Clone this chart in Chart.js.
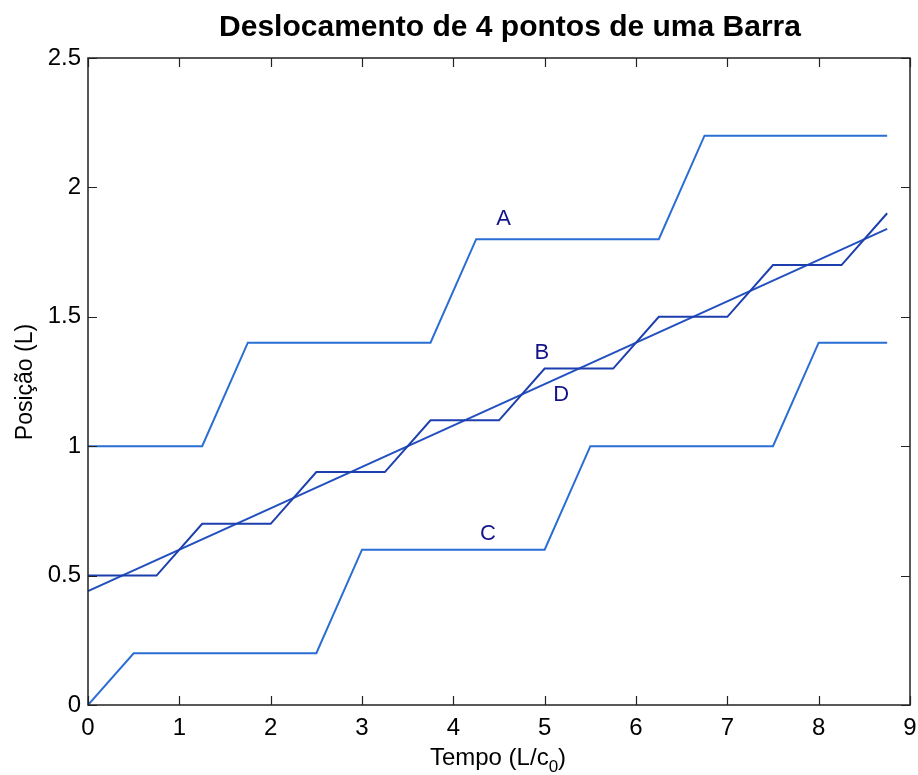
<!DOCTYPE html>
<html><head><meta charset="utf-8">
<script src="https://cdn.jsdelivr.net/npm/chart.js@4/dist/chart.umd.min.js"></script>
<style>html,body{margin:0;padding:0;background:#fff}#c{display:block}</style>
</head><body>
<canvas id="c" width="918" height="775" style="width:918px;height:775px"></canvas>
<script>
const seriesA = [[0,1],[1.25,1],[1.75,1.4],[3.75,1.4],[4.25,1.8],[6.25,1.8],[6.75,2.2],[8.75,2.2]];
const seriesB = [[0,0.5],[0.75,0.5],[1.25,0.7],[2,0.7],[2.5,0.9],[3.25,0.9],[3.75,1.1],[4.5,1.1],[5,1.3],[5.75,1.3],[6.25,1.5],[7,1.5],[7.5,1.7],[8.25,1.7],[8.75,1.9]];
const seriesC = [[0,0],[0.5,0.2],[2.5,0.2],[3,0.6],[5,0.6],[5.5,1.0],[7.5,1.0],[8,1.4],[8.75,1.4]];
const seriesD = [[0,0.44],[8.75,1.84]];
const curveLabels = [["A",4.55,1.88],["B",4.97,1.36],["D",5.18,1.20],["C",4.38,0.66]];
const xTicks = [0,1,2,3,4,5,6,7,8,9];
const yTicks = [0,0.5,1,1.5,2,2.5];
const titleText = "Deslocamento de 4 pontos de uma Barra";
const yTitle = "Posição (L)";

const toPts = a => a.map(p => ({x:p[0], y:p[1]}));
const FONT = '"Liberation Sans", Arial, Helvetica, sans-serif';

const decor = {
  id: 'decor',
  afterDraw(chart) {
    const ctx = chart.ctx, ca = chart.chartArea;
    const xs = chart.scales.x, ys = chart.scales.y;
    ctx.save();
    ctx.strokeStyle = '#222'; ctx.lineWidth = 1.5;
    ctx.strokeRect(ca.left, ca.top, ca.right - ca.left, ca.bottom - ca.top);
    ctx.lineWidth = 1.2;
    const tl = 9;
    xTicks.forEach(v => {
      const px = Math.round(xs.getPixelForValue(v)) + 0.5;
      ctx.beginPath(); ctx.moveTo(px, ca.bottom); ctx.lineTo(px, ca.bottom - tl);
      ctx.moveTo(px, ca.top); ctx.lineTo(px, ca.top + tl); ctx.stroke();
    });
    yTicks.forEach(v => {
      const py = Math.round(ys.getPixelForValue(v)) + 0.5;
      ctx.beginPath(); ctx.moveTo(ca.left, py); ctx.lineTo(ca.left + tl, py);
      ctx.moveTo(ca.right, py); ctx.lineTo(ca.right - tl, py); ctx.stroke();
    });
    // title
    ctx.fillStyle = '#000';
    ctx.font = 'bold 30px ' + FONT;
    ctx.textAlign = 'center'; ctx.textBaseline = 'alphabetic';
    ctx.fillText(titleText, 510, 36);
    // x title with subscript
    const fs = 24;
    ctx.font = fs + 'px ' + FONT;
    const p1 = 'Tempo (L/c', sub = '0', p2 = ')';
    ctx.textAlign = 'left';
    const w1 = ctx.measureText(p1).width, w3 = ctx.measureText(p2).width;
    ctx.font = '17px ' + FONT;
    const w2 = ctx.measureText(sub).width;
    let x0 = 498 - (w1 + w2 + w3) / 2, base = 765;
    ctx.font = fs + 'px ' + FONT; ctx.fillText(p1, x0, base);
    ctx.font = '17px ' + FONT; ctx.fillText(sub, x0 + w1, base + 7);
    ctx.font = fs + 'px ' + FONT; ctx.fillText(p2, x0 + w1 + w2, base);
    // y title
    ctx.save();
    ctx.translate(32, 382); ctx.rotate(-Math.PI / 2);
    ctx.textAlign = 'center';
    ctx.font = '23px ' + FONT;
    ctx.fillText(yTitle, 0, 0);
    ctx.restore();
    // curve labels
    ctx.fillStyle = '#14148a';
    ctx.font = '22px ' + FONT;
    ctx.textAlign = 'center'; ctx.textBaseline = 'middle';
    curveLabels.forEach(l => {
      ctx.fillText(l[0], xs.getPixelForValue(l[1]), ys.getPixelForValue(l[2]));
    });
    ctx.restore();
  }
};

new Chart(document.getElementById('c'), {
  type: 'line',
  data: {
    datasets: [
      {label:'A', data: toPts(seriesA), borderColor:'#2a6ed4', borderWidth:2},
      {label:'B', data: toPts(seriesB), borderColor:'#1d3fae', borderWidth:2},
      {label:'C', data: toPts(seriesC), borderColor:'#2a6ed4', borderWidth:2},
      {label:'D', data: toPts(seriesD), borderColor:'#2350bf', borderWidth:2}
    ]
  },
  options: {
    responsive: false,
    animation: false,
    devicePixelRatio: 1,
    elements: { point: { radius: 0 }, line: { tension: 0 } },
    layout: { padding: { left: 0, top: 58, right: 8, bottom: 0 } },
    plugins: { legend: { display: false }, tooltip: { enabled: false }, title: { display: false } },
    scales: {
      x: {
        type: 'linear', min: 0, max: 9,
        afterBuildTicks: s => { s.ticks = xTicks.map(v => ({value: v})); },
        afterFit: s => { s.height = 70; s.paddingLeft = 0; s.paddingRight = 0; },
        grid: { display: false, drawTicks: false },
        border: { display: false },
        ticks: { color: '#000', font: { size: 24, family: FONT }, padding: 9, maxRotation: 0 }
      },
      y: {
        type: 'linear', min: 0, max: 2.5,
        afterBuildTicks: s => { s.ticks = yTicks.map(v => ({value: v})); },
        afterFit: s => { s.width = 88; s.paddingTop = 0; s.paddingBottom = 0; },
        grid: { display: false, drawTicks: false },
        border: { display: false },
        ticks: { color: '#000', font: { size: 24, family: FONT }, padding: 7,
                 callback: v => String(v) }
      }
    }
  },
  plugins: [decor]
});
</script>
</body></html>
